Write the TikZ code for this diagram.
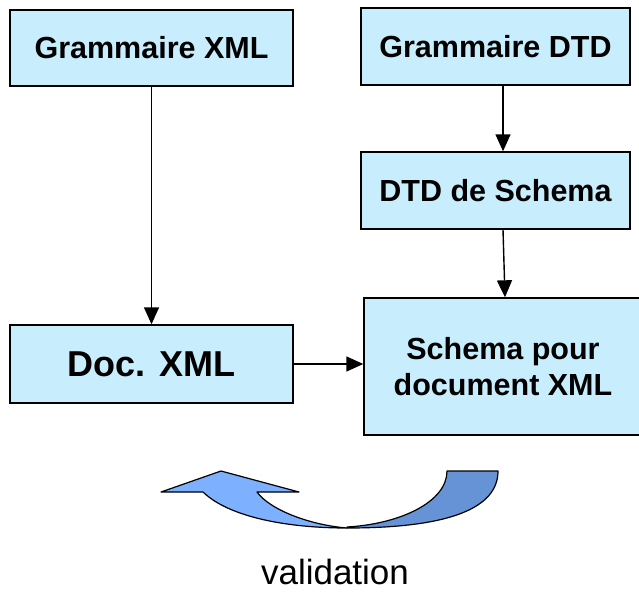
\documentclass[tikz,border=0pt]{standalone}
\usepackage{fontspec}
\setmainfont{Liberation Sans}
\usetikzlibrary{arrows.meta,calc}
\definecolor{boxfill}{HTML}{C8EEFD}
\definecolor{arrlight}{HTML}{7DB0FF}
\definecolor{arrdark}{HTML}{6692D6}
\begin{document}
\begin{tikzpicture}[x=1pt,y=-1pt,
  box/.style={draw=black,line width=1.4pt,fill=boxfill,inner sep=0pt,align=center,
    font=\fontsize{30.5}{36}\selectfont\bfseries},
  conn/.style={line width=1.4pt,-{Triangle[length=17pt,width=15pt]}}]
\useasboundingbox (0,0) rectangle (639,591);
\node[box,minimum width=283pt,minimum height=76pt] (gx) at (151.5,48) {Grammaire XML};
\node[box,minimum width=269pt,minimum height=77pt] (gd) at (495.5,46.5) {Grammaire DTD};
\node[box,minimum width=269pt,minimum height=77pt] (ds) at (495.5,190.5) {DTD de Schema};
\node[box,minimum width=283pt,minimum height=78pt,font=\fontsize{36}{40}\selectfont\bfseries] (doc) at (151.5,364) {Doc. XML};
\node[box,minimum width=278pt,minimum height=137pt] (sc) at (503,366.5) {Schema pour\\document XML};
\node[font=\fontsize{35}{40}\selectfont,anchor=base,inner sep=0pt] (val) at (335,584) {validation};
\draw[conn] (gx.south) -- (gx.south |- doc.north);
\draw[conn] ($(gd.south)+(7.5,0)$) -- ($(ds.north)+(7.5,0)$);
\draw[conn] ($(ds.south)+(7.5,0)$) -- ($(sc.north)+(2,0)$);
\draw[conn] (doc.east) -- (doc.east -| sc.west);
% curved arrow
\fill[arrdark,draw=black,line width=1.2pt,line join=round]
  (347,528) .. controls (450,528) and (498,508) .. (498,471) -- (447,471)
  .. controls (447,502) and (400,524) .. (347,527) -- cycle;
\fill[arrlight,draw=black,line width=1.2pt,line join=round]
  (203,492) .. controls (230,518) and (290,528) .. (347,528)
  .. controls (310,525) and (270,510) .. (257,492) -- (299,492) -- (221,471)
  -- (161,492) -- cycle;
\end{tikzpicture}
\end{document}
